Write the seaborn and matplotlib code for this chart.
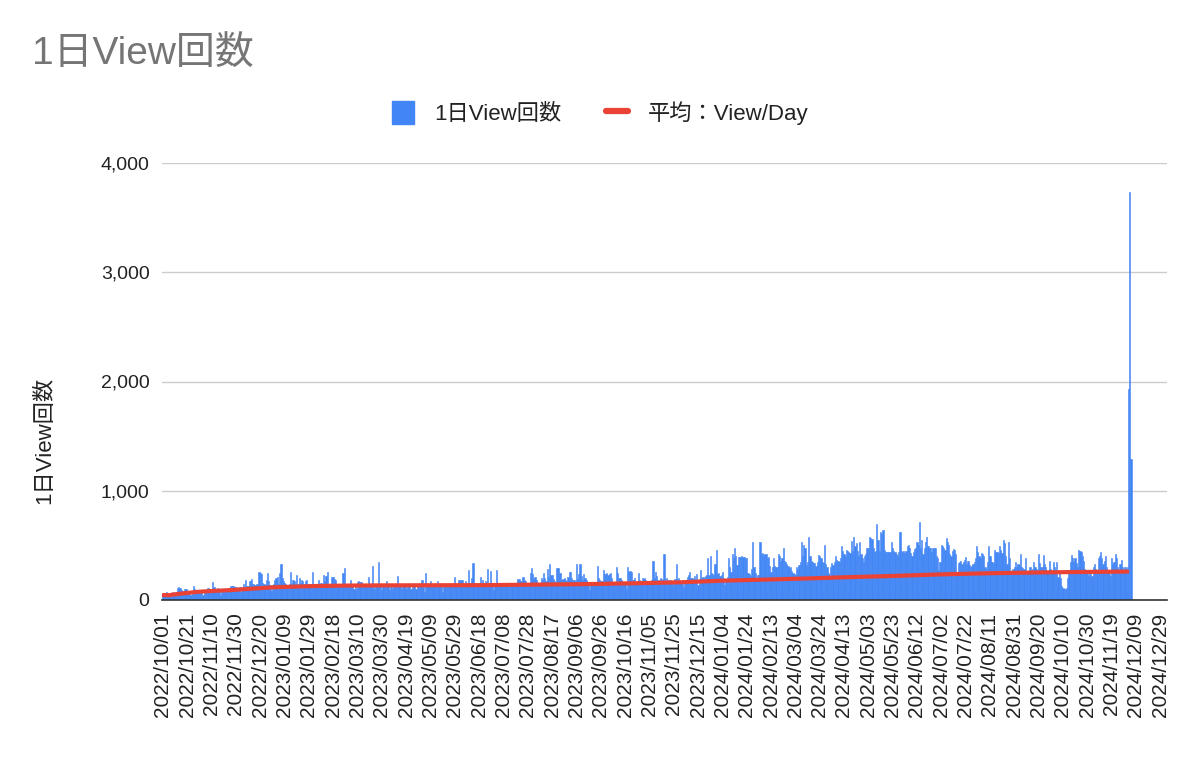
import matplotlib
matplotlib.use("Agg")
import matplotlib.pyplot as plt
import seaborn as sns
import numpy as np
import pandas as pd
from matplotlib.patches import Patch
from matplotlib.lines import Line2D

# daily views, 2022/10/01 .. 2024/12/05, one row per 20-day tick interval
views_2022q4 = [
    50, 40, 45, 70, 40, 45, 65, 60, 70, 65, 70, 75, 110, 115, 110, 95, 80, 85, 100, 105,
    80, 70, 85, 50, 80, 130, 100, 85, 90, 95, 80, 90, 95, 50, 85, 90, 95, 110, 100, 95,
    100, 168, 120, 105, 100, 110, 105, 50, 100, 95, 105, 100, 95, 100, 110, 100, 130, 130, 125, 120,
    115, 110, 110, 120, 70, 115, 150, 120, 180, 130, 125, 170, 175, 190, 150, 140, 135, 150, 145, 260,
    250, 240, 160, 150, 140, 180, 245, 170, 140, 80, 140, 145, 185, 200, 215, 150, 250, 330, 200, 170,
]
views_2023a = [
    160, 150, 140, 140, 145, 260, 150, 180, 170, 145, 225, 150, 200, 160, 180, 170, 145, 175, 180, 150,
    145, 150, 140, 260, 145, 150, 140, 145, 180, 150, 160, 150, 225, 170, 220, 260, 150, 145, 140, 215,
    215, 190, 185, 145, 140, 140, 145, 140, 244, 296, 145, 140, 140, 140, 183, 140, 135, 100, 140, 100,
    165, 170, 165, 165, 140, 140, 140, 140, 145, 207, 150, 140, 315, 140, 100, 140, 145, 350, 140, 140,
    95, 140, 140, 140, 170, 140, 95, 140, 140, 100, 140, 140, 140, 220, 140, 140, 100, 140, 140, 140,
    100, 140, 140, 140, 100, 140, 140, 140, 100, 140, 140, 140, 140, 185, 140, 76, 245, 140, 140, 140,
    175, 140, 150, 140, 140, 140, 175, 140, 150, 150, 70, 140, 140, 140, 140, 140, 140, 140, 140, 140,
    207, 150, 150, 185, 185, 180, 185, 150, 140, 170, 140, 275, 140, 140, 200, 335, 160, 140, 140, 140,
    140, 207, 140, 180, 140, 170, 140, 280, 140, 270, 140, 140, 90, 140, 275, 140, 140, 140, 140, 160,
    160, 130, 130, 130, 130, 135, 130, 130, 135, 130, 130, 130, 190, 190, 175, 170, 207, 180, 175, 150,
]
views_2023b = [
    150, 160, 245, 290, 240, 190, 210, 180, 160, 150, 150, 200, 185, 250, 200, 170, 280, 210, 330, 230,
    230, 190, 170, 160, 290, 290, 250, 250, 180, 190, 200, 180, 170, 210, 260, 260, 200, 180, 180, 175,
    330, 190, 240, 330, 220, 180, 240, 200, 180, 160, 140, 90, 140, 140, 140, 140, 150, 310, 200, 180,
    170, 170, 275, 240, 240, 250, 230, 240, 250, 200, 160, 150, 160, 305, 250, 200, 200, 180, 160, 150,
    150, 100, 305, 260, 270, 260, 180, 180, 200, 150, 160, 250, 180, 170, 200, 190, 200, 180, 160, 170,
    150, 170, 180, 360, 200, 260, 220, 180, 170, 200, 190, 180, 418, 170, 200, 180, 170, 180, 170, 165,
    137, 190, 330, 180, 200, 170, 170, 165, 120, 150, 180, 210, 230, 260, 200, 200, 190, 220, 180, 240,
    137, 190, 275, 200, 210, 200, 220, 230, 380, 230, 405, 250, 240, 230, 330, 457, 240, 250, 220, 230,
]
views_2024a = [
    260, 200, 137, 190, 210, 380, 300, 260, 425, 380, 480, 400, 320, 395, 395, 390, 400, 390, 390, 380,
    380, 250, 240, 220, 280, 527, 300, 250, 200, 230, 230, 527, 420, 430, 410, 420, 420, 380, 395, 310,
    260, 300, 380, 310, 300, 300, 418, 400, 360, 380, 473, 360, 350, 330, 310, 290, 300, 270, 250, 240,
    230, 300, 280, 320, 350, 527, 400, 503, 480, 320, 350, 580, 400, 360, 350, 340, 340, 310, 350, 412,
    400, 380, 350, 340, 503, 330, 300, 250, 230, 300, 335, 320, 350, 405, 370, 360, 350, 380, 490, 450,
    420, 400, 457, 450, 440, 430, 543, 450, 580, 490, 520, 450, 400, 535, 420, 380, 350, 400, 420, 473,
    480, 580, 570, 560, 473, 440, 450, 692, 550, 450, 620, 600, 640, 460, 440, 440, 440, 440, 440, 535,
    480, 450, 440, 420, 400, 440, 625, 450, 440, 450, 430, 450, 490, 500, 480, 430, 400, 440, 470, 480,
    535, 500, 710, 480, 550, 420, 480, 530, 580, 490, 480, 480, 440, 480, 480, 480, 400, 380, 275, 350,
    503, 490, 480, 460, 565, 530, 500, 420, 400, 450, 470, 460, 420, 260, 340, 350, 360, 330, 350, 370,
]
views_2024b = [
    390, 330, 360, 320, 300, 310, 330, 350, 380, 490, 440, 400, 380, 430, 420, 400, 300, 280, 350, 490,
    400, 350, 350, 340, 457, 440, 440, 430, 490, 460, 430, 550, 520, 400, 330, 527, 380, 260, 240, 280,
    300, 350, 300, 330, 320, 418, 300, 290, 280, 380, 260, 250, 250, 300, 260, 280, 350, 300, 280, 260,
    418, 340, 300, 300, 412, 330, 300, 260, 270, 360, 280, 250, 350, 300, 260, 345, 213, 250, 200, 130,
    110, 100, 100, 110, 200, 260, 350, 412, 380, 350, 380, 340, 300, 457, 450, 440, 400, 360, 280, 270,
    260, 220, 260, 240, 220, 300, 330, 280, 260, 380, 400, 436, 380, 330, 360, 400, 300, 260, 240, 220,
    380, 330, 350, 418, 380, 300, 260, 330, 370, 300, 260, 300, 280, 300, 1930, 3730, 1290,
]
daily_views = views_2022q4 + views_2023a + views_2023b + views_2024a + views_2024b

# running average (View/Day), read at selected days since 2022/10/01
avg_day = [0, 5, 10, 20, 30, 45, 58, 75, 90, 110, 126, 150, 181, 220, 263, 300,
           352, 400, 425, 460, 500, 532, 560, 600, 641, 680, 724, 760, 793]
avg_value = [45, 44, 52, 65, 76, 85, 92, 105, 116, 123, 128, 132, 134, 135, 136, 140,
             146, 156, 162, 177, 188, 198, 208, 220, 235, 245, 253, 257, 260]

start_date = "2022-10-01"
tick_step = 20
n_ticks = 42
y_ticks = [0, 1000, 2000, 3000, 4000]

BLUE = "#4285F4"
RED = "#EA4335"

sns.set_theme(style="white")
plt.rcParams["font.family"] = ["Liberation Sans", "Noto Sans CJK JP", "DejaVu Sans"]

days = np.arange(len(daily_views))
df = pd.DataFrame({"day": days, "views": daily_views})
avg_df = pd.DataFrame({"day": avg_day, "avg": avg_value})

fig = plt.figure(figsize=(12, 7.61), dpi=100)
ax = fig.add_axes([162 / 1200, 1 - 600 / 761, (1167 - 162) / 1200, (600 - 163) / 761])

sns.barplot(data=df, x="day", y="views", native_scale=True, width=1.0,
            color=BLUE, saturation=1, errorbar=None, linewidth=0.4,
            edgecolor=BLUE, ax=ax)
sns.lineplot(data=avg_df, x="day", y="avg", color=RED, linewidth=3.0, ax=ax)

ax.set_xlim(-0.8, 825.6)
ax.set_ylim(0, 4000)

tick_pos = [i * tick_step for i in range(n_ticks)]
tick_lab = pd.date_range(start_date, periods=n_ticks, freq=f"{tick_step}D").strftime("%Y/%m/%d")
ax.set_xticks(tick_pos)
ax.set_xticklabels(tick_lab, rotation=90, fontsize=15, color="#222222")
ax.set_yticks(y_ticks)
ax.set_yticklabels([f"{v:,}" for v in y_ticks], fontsize=14, color="#222222")
ax.tick_params(axis="both", length=0)
ax.tick_params(axis="x", pad=9)
ax.tick_params(axis="y", pad=9)

ax.grid(axis="y", color="#cccccc", linewidth=1)
ax.grid(axis="x", visible=False)
ax.set_axisbelow(True)
for side in ["top", "right", "left"]:
    ax.spines[side].set_visible(False)
ax.spines["bottom"].set_color("#333333")
ax.spines["bottom"].set_linewidth(1.2)
ax.set_xlabel("")
ax.set_ylabel("")

fig.text(45 / 1200, 1 - 440 / 761, "1日View回数", rotation=90, ha="center", va="center",
         fontsize=16, color="#222222")
fig.text(32 / 1200, 1 - 55 / 761, "1日View回数", ha="left", va="center",
         fontsize=28, color="#757575")

handles = [Patch(facecolor=BLUE, edgecolor=BLUE, label="1日View回数"),
           Line2D([0], [0], color=RED, linewidth=4.5, label="平均：View/Day")]
fig.legend(handles=handles, loc="center", bbox_to_anchor=(0.5, 1 - 113 / 761), ncol=2,
           frameon=False, fontsize=16, handlelength=1.0, handleheight=1.2,
           columnspacing=2.0, handletextpad=0.9, labelcolor="#222222")

fig.savefig("out.png", dpi=100)
